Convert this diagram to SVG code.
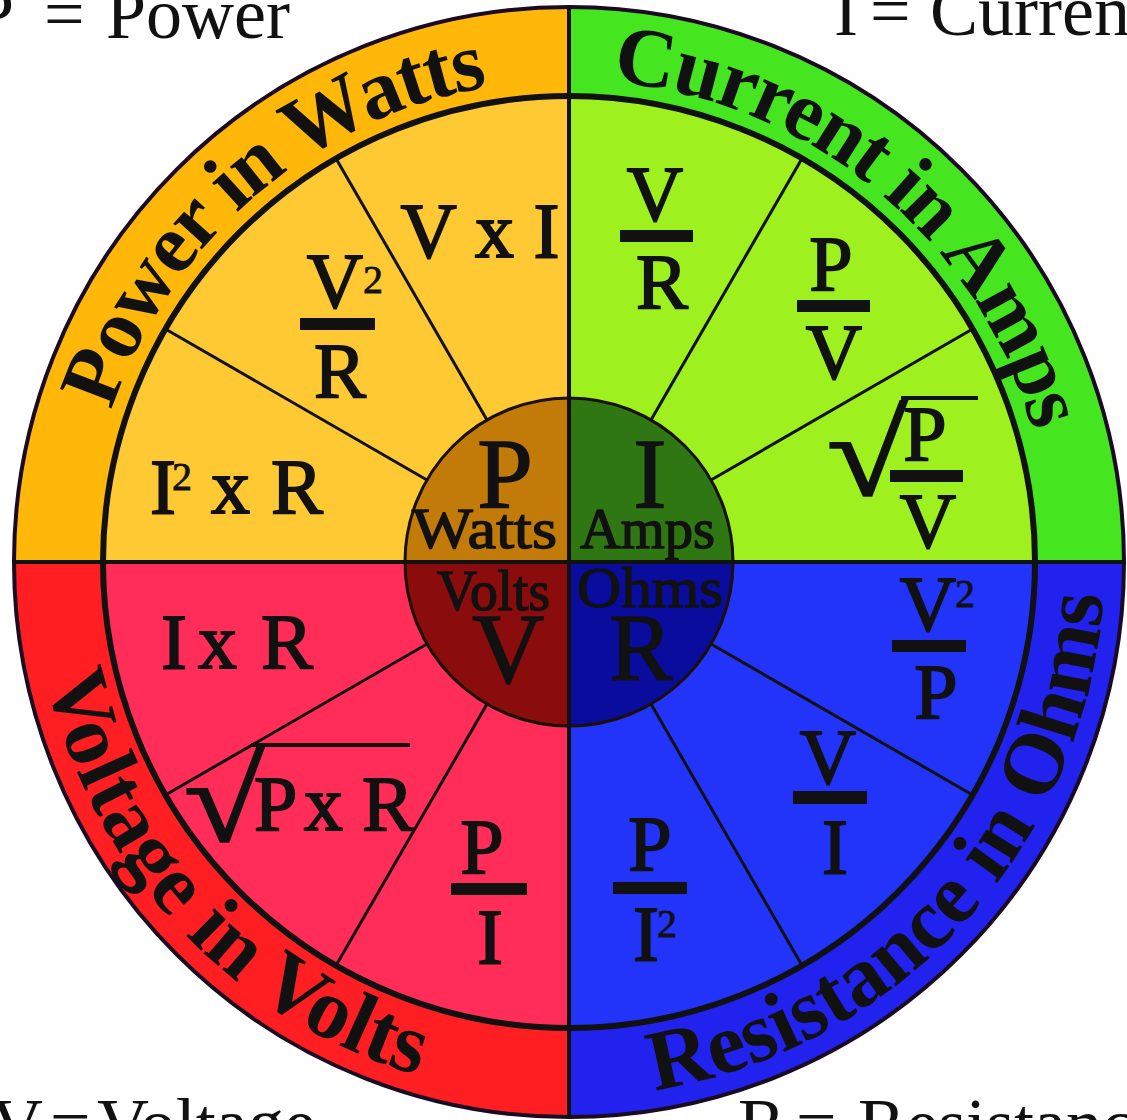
<svg xmlns="http://www.w3.org/2000/svg" width="1127" height="1120" viewBox="0 0 1127 1120">
<defs>
<style>
.f{font-family:"Liberation Serif","Times New Roman",serif;fill:#111;}
.fm{font-size:78px;stroke:#111;stroke-width:1.8px;}
.big{font-size:100px;stroke:#111;stroke-width:1.5px;}
.lbl{font-size:57px;stroke:#111;stroke-width:1.4px;}
.sup{font-size:40px;stroke:#111;stroke-width:0.8px;}
.rad{font-size:108px;stroke:#111;stroke-width:1.8px;}
.mid{text-anchor:middle;}
.band{font-size:86px;font-weight:bold;}
.bandT{font-size:84px;letter-spacing:-2px;}
.corner{font-size:72px;}
.bar{fill:#111;}
.ovl{stroke:#111;stroke-width:4;}
.spoke{stroke:#111;stroke-width:3;fill:none;}
.div{stroke:#111;stroke-width:4;fill:none;}
</style>
<path id="arcTop" d="M87,562 A482,482 0 0 1 1051,562"/>
<path id="arcBot" d="M34,562 A535,535 0 0 0 1104,562"/>
</defs>
<rect width="1127" height="1120" fill="#ffffff"/>

<g id="corner-labels" class="f corner">
<text y="38"><tspan x="-26">P</tspan><tspan x="44">=</tspan><tspan x="106">Power</tspan></text>
<text y="35"><tspan x="834">I</tspan><tspan x="870">=</tspan><tspan x="930">Current</tspan></text>
<text y="1148"><tspan x="-9">V</tspan><tspan x="50">=</tspan><tspan x="97">Voltage</tspan></text>
<text y="1148"><tspan x="738">R</tspan><tspan x="796">=</tspan><tspan x="858">Resistance</tspan></text>
</g>

<g id="quadrant-power">
<path d="M569,562 L14,562 A555,555 0 0 1 569,7 Z" fill="#FFB80A"/>
<path d="M569,562 L103,562 A466,466 0 0 1 569,96 Z" fill="#FFC933"/>
<text class="f band bandT"><textPath href="#arcTop" startOffset="414" text-anchor="middle">Power in Watts</textPath></text>
<text class="f fm mid" x="480" y="257">V x I</text>
<text class="f fm mid" x="335" y="307">V</text>
<text class="f sup" x="363" y="293">2</text>
<rect class="bar" x="300" y="318" width="75" height="12"/>
<text class="f fm mid" x="340" y="397">R</text>
<text class="f fm" y="513"><tspan x="150">I</tspan><tspan x="211">x</tspan><tspan x="271">R</tspan></text>
<text class="f sup" x="172" y="490">2</text>
</g>

<g id="quadrant-current">
<path d="M569,562 L569,7 A555,555 0 0 1 1124,562 Z" fill="#45E620"/>
<path d="M569,562 L569,96 A466,466 0 0 1 1035,562 Z" fill="#9EF01E"/>
<text class="f band bandT"><textPath href="#arcTop" startOffset="1090" text-anchor="middle">Current in Amps</textPath></text>
<text class="f fm mid" x="655" y="220">V</text>
<rect class="bar" x="620" y="230" width="73" height="12"/>
<text class="f fm mid" x="662" y="308">R</text>
<text class="f fm mid" x="831" y="290">P</text>
<rect class="bar" x="797" y="300" width="73" height="12"/>
<text class="f fm mid" x="834" y="378">V</text>
<text class="f rad" transform="translate(827,495) scale(1.35,1.1)">√</text>
<line class="ovl" x1="901" y1="398" x2="978" y2="398"/>
<text class="f fm mid" x="925" y="460">P</text>
<rect class="bar" x="890" y="470" width="73" height="12"/>
<text class="f fm mid" x="928" y="547">V</text>
</g>

<g id="quadrant-voltage">
<path d="M569,562 L569,1117 A555,555 0 0 1 14,562 Z" fill="#FF1E22"/>
<path d="M569,562 L569,1028 A466,466 0 0 1 103,562 Z" fill="#FF2D57"/>
<text class="f band"><textPath href="#arcBot" startOffset="402" text-anchor="middle">Voltage in Volts</textPath></text>
<text class="f fm" y="668"><tspan x="161">I</tspan><tspan x="198">x</tspan><tspan x="261">R</tspan></text>
<text class="f rad" transform="translate(184,841) scale(1.35,1.1)">√</text>
<line class="ovl" x1="251" y1="745" x2="410" y2="745"/>
<text class="f fm" y="830"><tspan x="254">P</tspan><tspan x="304">x</tspan><tspan x="362">R</tspan></text>
<text class="f fm mid" x="482" y="873">P</text>
<rect class="bar" x="451" y="883" width="76" height="12"/>
<text class="f fm mid" x="490" y="963">I</text>
</g>

<g id="quadrant-resistance">
<path d="M569,562 L1124,562 A555,555 0 0 1 569,1117 Z" fill="#2222EE"/>
<path d="M569,562 L1035,562 A466,466 0 0 1 569,1028 Z" fill="#2233FA"/>
<text class="f band"><textPath href="#arcBot" startOffset="1287" text-anchor="middle">Resistance in Ohms</textPath></text>
<text class="f fm mid" x="928" y="630">V</text>
<text class="f sup" x="955" y="607">2</text>
<rect class="bar" x="892" y="640" width="74" height="12"/>
<text class="f fm mid" x="936" y="718">P</text>
<text class="f fm mid" x="828" y="783">V</text>
<rect class="bar" x="793" y="791" width="74" height="13"/>
<text class="f fm mid" x="835" y="873">I</text>
<text class="f fm mid" x="650" y="870">P</text>
<rect class="bar" x="613" y="882" width="74" height="12"/>
<text class="f fm mid" x="646" y="960">I</text>
<text class="f sup" x="657" y="937">2</text>
</g>

<g id="connectors">
<circle cx="569" cy="562" r="555" fill="none" stroke="#1a0a22" stroke-width="4"/>
<circle cx="569" cy="562" r="466" fill="none" stroke="#111" stroke-width="6"/>
<line class="div" x1="569" y1="7" x2="569" y2="1117"/>
<line class="div" x1="14" y1="562" x2="1124" y2="562"/>
<line class="spoke" x1="427" y1="480" x2="165.4" y2="329"/>
<line class="spoke" x1="487" y1="420" x2="336" y2="158.4"/>
<line class="spoke" x1="651" y1="420" x2="802" y2="158.4"/>
<line class="spoke" x1="711" y1="480" x2="972.6" y2="329"/>
<line class="spoke" x1="711" y1="644" x2="972.6" y2="795"/>
<line class="spoke" x1="651" y1="704" x2="802" y2="965.6"/>
<line class="spoke" x1="487" y1="704" x2="336" y2="965.6"/>
<line class="spoke" x1="427" y1="644" x2="165.4" y2="795"/>
</g>

<g id="hub">
<path d="M569,562 L405,562 A164,164 0 0 1 569,398 Z" fill="#C27A08"/>
<path d="M569,562 L569,398 A164,164 0 0 1 733,562 Z" fill="#2F7713"/>
<path d="M569,562 L733,562 A164,164 0 0 1 569,726 Z" fill="#0A0C9E"/>
<path d="M569,562 L569,726 A164,164 0 0 1 405,562 Z" fill="#8A0C0C"/>
<circle cx="569" cy="562" r="164" fill="none" stroke="#1a1005" stroke-width="3"/>
<line class="div" x1="569" y1="398" x2="569" y2="726"/>
<line class="div" x1="405" y1="562" x2="733" y2="562"/>
</g>

<g id="hub-power">
<text class="f big mid" x="505" y="507">P</text>
<text class="f lbl" x="412" y="548" textLength="145" lengthAdjust="spacingAndGlyphs">Watts</text>
</g>
<g id="hub-current">
<text class="f big mid" x="650" y="507">I</text>
<text class="f lbl" x="580" y="548" textLength="135" lengthAdjust="spacingAndGlyphs">Amps</text>
</g>
<g id="hub-voltage">
<text class="f lbl" x="437" y="610" textLength="113" lengthAdjust="spacingAndGlyphs">Volts</text>
<text class="f big mid" x="508" y="682">V</text>
</g>
<g id="hub-resistance">
<text class="f lbl" x="577" y="607" textLength="146" lengthAdjust="spacingAndGlyphs">Ohms</text>
<text class="f big mid" x="641" y="680" style="font-size:95px">R</text>
</g>
</svg>
